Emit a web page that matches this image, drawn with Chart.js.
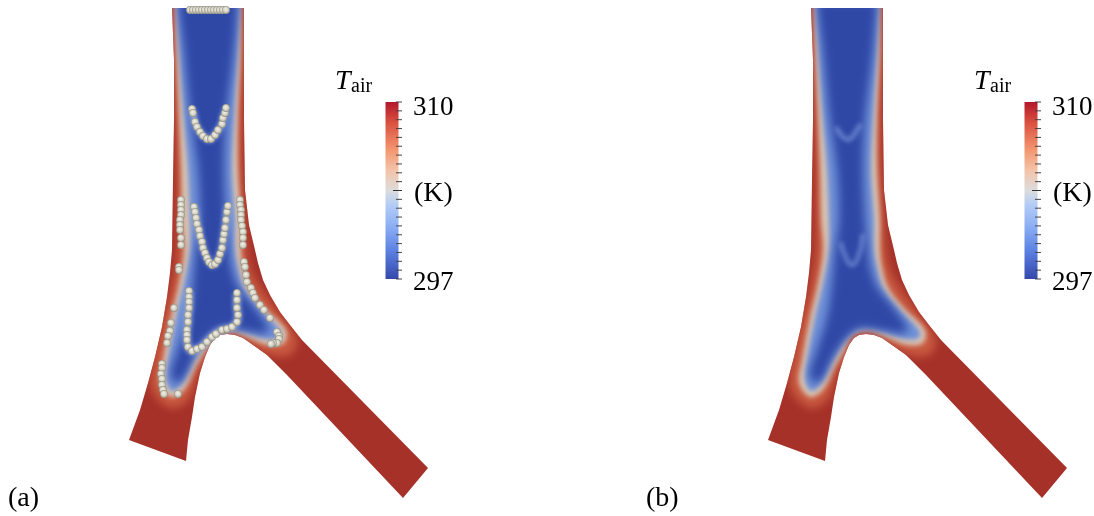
<!DOCTYPE html>
<html>
<head>
<meta charset="utf-8">
<style>
  html, body { margin: 0; padding: 0; background: #fff; }
  canvas { display: block; }
</style>
<script src="https://cdn.jsdelivr.net/npm/chart.js@4/dist/chart.umd.js"></script>
</head>
<body>
<canvas id="myChart" width="1094" height="516"></canvas>
<script>
var outline = [[172,8],[244,8],[244,120],[245,190],[249,225],[255,250],[258,263],[263,280],[270,295],[280,312],[290,325],[302,340],[428,468],
  [403,498],[287,375],[267,355],[253,345],[243,338],[235,335],[227,334],[220,335],[215,338],[210,345],[205,357],[200,373],[195,397],[192,417],[188,440],[186,461],
  [129,440],[140,410],[148,383],[155,357],[162,327],[167,297],[170,273],[172,250],[173,180],[174,120],[174,60]];

var contourOrange = [[173,2],[174,50],[176,120],[177,170],[177,220],[177,250],[172,283],[163,317],[153,360],[152,390],[171,408],[188,400],[200,370],[208,355],[219,337],[227,335],[237,336],[254,347],[270,355],[290,355],[297,340],[277,310],[260,287],[250,267],[247,250],[245,220],[242,170],[242,120],[243,50],[243,2]];
var contourBeige = [[175,2],[176,50],[179,120],[181,170],[182,220],[184,250],[179,283],[171,317],[163,360],[160,383],[171,397],[184,390],[196,367],[204,353],[214,335],[228,331],[244,336],[268,345],[284,343],[286,330],[264,307],[249,287],[243,267],[241,250],[241,220],[238,170],[238,120],[241,50],[241,2]];
var contourLight = [[176,2],[179,50],[184,120],[188,170],[190,220],[190,250],[184,283],[176,317],[168,360],[166,380],[172,391],[182,384],[193,362],[202,347],[214,333],[228,329],[244,332],[266,339],[280,338],[280,330],[260,309],[244,288],[238,267],[235,250],[235,220],[232,170],[234,120],[238,50],[240,2]];
var contourDeep = [[178,2],[184,50],[191,120],[198,170],[200,220],[196,250],[193,283],[188,317],[178,350],[171,373],[176,383],[184,377],[194,357],[208,337],[221,328],[241,330],[261,333],[269,330],[254,307],[238,287],[231,267],[229,250],[226,220],[224,170],[226,120],[234,50],[238,2]];

var dropsTop = [[190,10],[193,10],[196,10],[199,10],[202,10],[205,10],[208,10],[211,10],[214,10],[217,10],[220,10],[223,10],[226,10]];
var dropsV1 = [[192,109],[193,113],[195,122],[197,127],[200,132],[203,136],[207,139],[211,139],[215,135],[218,130],[222,124],[223,118],[225,113],[226,108]];
var dropsV2 = [[194,207],[195,212],[196,218],[197,224],[199,230],[200,236],[202,242],[203,248],[205,253],[207,258],[209,262],[212,265],[215,264],[218,260],[220,254],[222,248],[223,240],[224,234],[225,228],[226,220],[227,212],[228,206]];
var dropsU = [[189,291],[189,297],[189,302],[189,308],[188,315],[188,322],[187,330],[187,335],[187,340],[188,347],[192,351],[197,349],[202,347],[207,342],[212,337],[216,334],[222,330],[227,329],[232,327],[237,322],[238,315],[237,308],[237,300],[237,293]];
var dropsLeft = [[181,200],[181,205],[181,210],[181,215],[180,220],[180,225],[180,230],[181,238],[181,245],[179,267],[179,270],[174,308],[171,323],[170,331],[168,336],[167,343],[162,364],[162,368],[161,374],[162,379],[162,385],[163,390],[164,394],[178,394]];
var dropsRight = [[240,200],[240,205],[241,210],[241,215],[241,220],[242,226],[243,232],[243,238],[243,245],[244,262],[245,267],[246,275],[247,282],[251,288],[253,293],[255,298],[260,305],[264,310],[270,318],[277,332],[279,336],[279,339],[277,343],[273,343],[271,344]];

// colour bar, in kelvin
var barRange = [297, 310];
var barStops = [[297,'#3548ab'],[299,'#5a7fe0'],[301,'#8fb2f5'],[302.5,'#b5cdf5'],[303.5,'#dcdcdc'],[305,'#f3c3a8'],[306.5,'#f3966f'],[308.5,'#d9503f'],[310,'#b2182b']];
var barTicks = [297,297.65,298.3,298.95,299.6,300.25,300.9,301.55,302.2,302.85,304.15,304.8,305.45,306.1,306.75,307.4,308.05,308.7,309.35,310];
var barMidTick = [303.5];

var panelShift = [0, 639];
var barX = 392, tickX = 399, midTickX = 397.5;

// text, position, font
var labels = [
  ['T', 335, 89, 'italic 28px "Liberation Serif"'],
  ['air', 351, 92, '20px "Liberation Serif"'],
  ['310', 413, 115, '27px "Liberation Serif"'],
  ['(K)', 414, 201, '28px "Liberation Serif"'],
  ['297', 413, 290, '27px "Liberation Serif"']
];
var panelNames = [['(a)', 8, 506], ['(b)', 646, 506]];

function toPoints(list, shift) {
  return list.map(function(p) { return {x: p[0] + shift, y: p[1]}; });
}

// sphere sprite for the droplets
function makeDrop() {
  var c = document.createElement('canvas');
  c.width = 8; c.height = 8;
  var g = c.getContext('2d');
  var grad = g.createRadialGradient(3.6, 3, 0.4, 4, 4, 4);
  grad.addColorStop(0, '#efeee4');
  grad.addColorStop(0.6, '#d3d0c2');
  grad.addColorStop(1, '#8f8d80');
  g.fillStyle = grad;
  g.beginPath();
  g.arc(4, 4, 3.9, 0, Math.PI * 2);
  g.fill();
  return c;
}

// blur and clip of the field layers, has to run before the filler hook
var fieldPlugin = {
  id: 'fieldBlur',
  beforeDatasetDraw: function(chart, args) {
    var ds = chart.data.datasets[args.index];
    if (ds.blur === undefined) return;
    var ctx = chart.ctx, sx = chart.scales.x, sy = chart.scales.y;
    ctx.save();
    ctx.beginPath();
    outline.forEach(function(p, i) {
      var px = sx.getPixelForValue(p[0] + ds.shift), py = sy.getPixelForValue(p[1]);
      if (i === 0) ctx.moveTo(px, py); else ctx.lineTo(px, py);
    });
    ctx.closePath();
    ctx.clip();
    ctx.filter = 'blur(' + ds.blur + 'px)';
  },
  afterDatasetDraw: function(chart, args) {
    if (chart.data.datasets[args.index].blur === undefined) return;
    chart.ctx.restore();
  }
};

var textPlugin = {
  id: 'texts',
  afterDraw: function(chart) {
    var ctx = chart.ctx, sx = chart.scales.x, sy = chart.scales.y;
    ctx.save();
    ctx.fillStyle = '#000';
    ctx.textBaseline = 'alphabetic';
    panelShift.forEach(function(shift) {
      labels.forEach(function(l) {
        ctx.font = l[3];
        ctx.fillText(l[0], sx.getPixelForValue(l[1] + shift), sy.getPixelForValue(l[2]));
      });
    });
    ctx.font = '28px "Liberation Serif"';
    panelNames.forEach(function(l) {
      ctx.fillText(l[0], sx.getPixelForValue(l[1]), sy.getPixelForValue(l[2]));
    });
    ctx.restore();
  }
};

var filler = Chart.registry.plugins.get('filler');
Chart.unregister(filler);
Chart.register(fieldPlugin);
Chart.register(filler);

var datasets = [];
function add(ds) {
  ds.order = -datasets.length;   // later ones on top
  datasets.push(ds);
}
function addLayer(list, color, shift, blur) {
  add({type: 'scatter', showLine: true, data: toPoints(list, shift), fill: 'shape', backgroundColor: color,
    borderWidth: 0, pointRadius: 0, tension: 0.35, blur: blur, shift: shift});
}
function addStreak(list, color, shift, width) {
  add({type: 'scatter', showLine: true, data: toPoints(list, shift), fill: false, borderColor: color,
    borderWidth: width, pointRadius: 0, tension: 0.3, blur: 2, shift: shift});
}

panelShift.forEach(function(shift, panel) {
  add({type: 'scatter', showLine: true, data: toPoints(outline, shift), fill: 'shape', backgroundColor: '#a53129',
    borderWidth: 0, pointRadius: 0});
  addLayer(contourOrange, '#c8593f', shift, 4);
  addLayer(contourBeige, '#d9c6b4', shift, 2.5);
  addLayer(contourLight, '#6f90d8', shift, 2.5);
  addLayer(contourDeep, '#2f48a6', shift, 4);
  if (panel === 0) {
    addStreak(dropsV1, '#9db4e6', shift, 6);
    addStreak(dropsV2, '#9db4e6', shift, 6);
    addStreak(dropsU, '#9db4e6', shift, 7);
  } else {
    // only the bottom of the arcs shows up without the droplets
    addStreak(dropsV1.slice(3, 11), 'rgba(130,160,225,0.6)', shift, 5);
    addStreak(dropsV2.slice(6, 18), 'rgba(130,160,225,0.55)', shift, 5);
  }
});

var dropSprite = makeDrop();
[dropsTop, dropsV1, dropsV2, dropsU, dropsLeft, dropsRight].forEach(function(list) {
  add({type: 'scatter', data: toPoints(list, 0), pointStyle: dropSprite, pointRadius: 4});
});

panelShift.forEach(function(shift) {
  add({type: 'scatter', showLine: true, yAxisID: 'yBar', pointRadius: 0, borderWidth: 13, borderCapStyle: 'butt',
    data: barRange.map(function(v) { return {x: barX + shift, y: v}; }),
    borderColor: function(context) {
      var s = context.chart.scales.yBar;
      var y0 = s ? s.getPixelForValue(barRange[0]) : NaN;
      var y1 = s ? s.getPixelForValue(barRange[1]) : NaN;
      if (!isFinite(y0) || !isFinite(y1)) return '#888';
      var g = context.chart.ctx.createLinearGradient(0, y0, 0, y1);
      barStops.forEach(function(st) {
        g.addColorStop((st[0] - barRange[0]) / (barRange[1] - barRange[0]), st[1]);
      });
      return g;
    }});
  add({type: 'scatter', yAxisID: 'yBar', pointStyle: 'line', pointRadius: 3, pointBorderWidth: 1, pointBorderColor: '#444',
    data: barTicks.map(function(v) { return {x: tickX + shift, y: v}; })});
  add({type: 'scatter', yAxisID: 'yBar', pointStyle: 'line', pointRadius: 4.5, pointBorderWidth: 1, pointBorderColor: '#333',
    data: barMidTick.map(function(v) { return {x: midTickX + shift, y: v}; })});
});

var kPerPx = (barRange[1] - barRange[0]) / 177;
var ctx = document.getElementById('myChart').getContext('2d');
var myChart = new Chart(ctx, {
  type: 'scatter',
  data: {datasets: datasets},
  options: {
    responsive: false,
    animation: false,
    events: [],
    layout: {padding: 0, autoPadding: false},
    clip: false,
    plugins: {legend: {display: false}, tooltip: {enabled: false}, title: {display: false}},
    scales: {
      x: {type: 'linear', display: false, min: 0, max: 1094},
      y: {type: 'linear', display: false, min: 0, max: 516, reverse: true},
      yBar: {type: 'linear', display: false, min: 297 - (516 - 279) * kPerPx, max: 310 + 102 * kPerPx}
    }
  },
  plugins: [textPlugin]
});
</script>
</body>
</html>
